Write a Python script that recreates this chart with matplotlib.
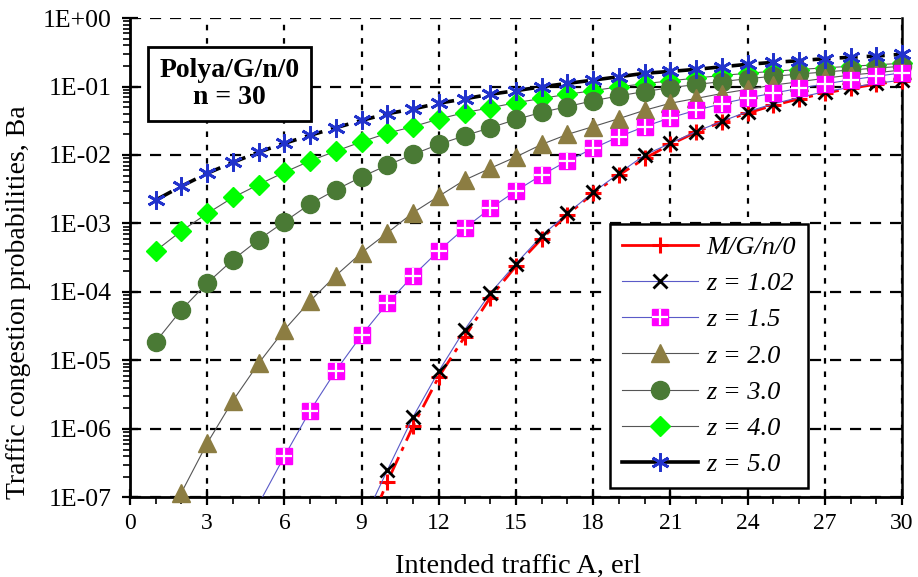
import numpy as np
import matplotlib
matplotlib.use("Agg")
import matplotlib.pyplot as plt
from matplotlib.ticker import FixedLocator, LogLocator, NullFormatter
from matplotlib.lines import Line2D
from matplotlib.legend_handler import HandlerTuple

nan = np.nan
A = list(range(1, 31))

mg_n0 = [nan]*8 + [2.1e-8, 1.7e-7, 1.1e-6, 5.8e-6, 2.2e-5, 8.3e-5, 2.4e-4, 6.0e-4,
                   1.35e-3, 2.75e-3, 5.1e-3, 8.9e-3, 1.43e-2, 2.15e-2, 3.05e-2, 4.1e-2,
                   5.3e-2, 6.6e-2, 8.0e-2, 9.4e-2, 0.108, 0.122]
z_102 = [nan]*8 + [4.0e-8, 2.5e-7, 1.5e-6, 7.0e-6, 2.8e-5, 9.6e-5, 2.6e-4, 6.6e-4,
                   1.41e-3, 2.85e-3, 5.4e-3, 1.0e-2, 1.48e-2, 2.2e-2, 3.1e-2, 4.3e-2,
                   5.6e-2, 6.9e-2, 8.4e-2, 9.7e-2, 0.111, 0.124]
z_15 = [nan]*4 + [8.0e-8, 4.0e-7, 1.85e-6, 7.1e-6, 2.35e-5, 6.8e-5, 1.73e-4, 4.0e-4,
                  8.5e-4, 1.66e-3, 3.0e-3, 5.1e-3, 8.2e-3, 1.25e-2, 1.85e-2, 2.6e-2,
                  3.5e-2, 4.5e-2, 5.6e-2, 6.8e-2, 8.0e-2, 9.4e-2, 0.109, 0.125, 0.141, 0.158]
z_20 = [1.6e-8, 1.18e-7, 6.2e-7, 2.6e-6, 9.1e-6, 2.8e-5, 7.4e-5, 1.74e-4, 3.75e-4, 7.3e-4,
        1.44e-3, 2.5e-3, 4.3e-3, 6.4e-3, 9.4e-3, 1.43e-2, 2.0e-2, 2.6e-2, 3.4e-2, 4.5e-2,
        5.7e-2, 6.7e-2, 7.9e-2, 9.1e-2, 0.105, 0.117, 0.132, 0.147, 0.159, 0.174]
z_30 = [1.88e-5, 5.5e-5, 1.35e-4, 2.95e-4, 5.8e-4, 1.06e-3, 1.93e-3, 3.1e-3, 4.8e-3, 7.1e-3,
        1.02e-2, 1.43e-2, 1.91e-2, 2.5e-2, 3.3e-2, 4.2e-2, 5.1e-2, 6.2e-2, 7.3e-2, 8.45e-2,
        9.6e-2, 0.107, 0.118, 0.13, 0.141, 0.152, 0.163, 0.174, 0.186, 0.197]
z_40 = [4.0e-4, 7.8e-4, 1.4e-3, 2.4e-3, 3.7e-3, 5.6e-3, 8.2e-3, 1.14e-2, 1.56e-2, 2.08e-2,
        2.6e-2, 3.35e-2, 4.15e-2, 4.9e-2, 5.8e-2, 6.7e-2, 7.7e-2, 8.7e-2, 9.9e-2, 0.11,
        0.121, 0.133, 0.145, 0.156, 0.167, 0.177, 0.1875, 0.197, 0.2075, 0.218]
z_50 = [2.2e-3, 3.5e-3, 5.4e-3, 7.8e-3, 1.1e-2, 1.48e-2, 1.94e-2, 2.5e-2, 3.2e-2, 4.0e-2,
        4.7e-2, 5.7e-2, 6.6e-2, 7.7e-2, 8.7e-2, 9.9e-2, 0.111, 0.124, 0.139, 0.156,
        0.166, 0.178, 0.194, 0.211, 0.225, 0.238, 0.255, 0.267, 0.279, 0.295]

labels = ["M/G/n/0", "z = 1.02", "z = 1.5", "z = 2.0", "z = 3.0", "z = 4.0", "z = 5.0"]
x_ticks = [0, 3, 6, 9, 12, 15, 18, 21, 24, 27, 30]
y_ticks = [1e-7, 1e-6, 1e-5, 1e-4, 1e-3, 1e-2, 1e-1, 1e0]
y_ticklabels = ["1E-07", "1E-06", "1E-05", "1E-04", "1E-03", "1E-02", "1E-01", "1E+00"]

plt.rcParams['font.family'] = ['Liberation Serif', 'DejaVu Serif']

fig = plt.figure(figsize=(9.18, 5.77), dpi=100)
ax = fig.add_axes([0.1416, 0.1378, 0.8410, 0.8310])
YMIN = 1e-7

thin_blue = '#5a5ac8'
thin_gray = '#555555'

series = [
    (mg_n0, dict(color='red', lw=2.0, linestyle=(0, (7, 2.5, 1.5, 2.5))),
     dict(marker='+', ms=11, mew=2.2, mec='red'), 3),
    (z_102, dict(color=thin_blue, lw=0.8), dict(marker='x', ms=10, mew=2.0, mec='black'), 4),
    (z_15, dict(color=thin_blue, lw=0.8), dict(marker='s', ms=11, mfc='#ff00ff', mec='#ff00ff'), 5),
    (z_20, dict(color=thin_gray, lw=0.8), dict(marker='^', ms=13, mfc='#8c7d42', mec='#8c7d42'), 4.5),
    (z_30, dict(color=thin_gray, lw=0.8), dict(marker='o', ms=13, mfc='#4a7a35', mec='#4a7a35'), 3.8),
    (z_40, dict(color=thin_gray, lw=0.8), dict(marker='D', ms=10, mfc='#00ff00', mec='#00ff00'), 3.5),
    (z_50, dict(color='black', lw=2.6, linestyle=(0, (5, 2.5))),
     dict(marker=(6, 2, 0), ms=13, mew=2.0, mec='#2233cc'), 6),
]

handles = []
for vals, lstyle, mstyle, zo in series:
    v = np.array(vals, dtype=float)
    ax.plot(A, v, zorder=zo, **lstyle)
    vis = [i for i in range(len(v)) if np.isfinite(v[i]) and v[i] >= YMIN]
    ax.plot(A, v, linestyle='none', markevery=vis, clip_on=False, zorder=zo + 0.05, **mstyle)
    lst = dict(lstyle)
    lst['linestyle'] = '-'
    handles.append(Line2D([], [], **lst, **mstyle))

# white cross inside the magenta squares
v15 = np.array(z_15, dtype=float)
vis15 = [i for i in range(len(v15)) if np.isfinite(v15[i]) and v15[i] >= YMIN]
ax.plot(A, v15, linestyle='none', marker='+', ms=11, mew=1.6, mec='white',
        markevery=vis15, clip_on=False, zorder=5.1)
cross = Line2D([], [], linestyle='none', marker='+', ms=11, mew=1.6, mec='white')
handles[2] = (handles[2], cross)

ax.set_yscale('log')
ax.set_xlim(0, 30)
ax.set_ylim(YMIN, 1)

ax.xaxis.set_major_locator(FixedLocator(x_ticks))
ax.xaxis.set_minor_locator(FixedLocator([a for a in range(0, 31) if a % 3 != 0]))
ax.set_yticks(y_ticks)
ax.set_yticklabels(y_ticklabels)
ax.yaxis.set_minor_locator(LogLocator(base=10, subs=np.arange(2, 10)))
ax.yaxis.set_minor_formatter(NullFormatter())

ax.tick_params(axis='both', which='major', direction='inout', length=11, width=1.6,
               colors='black')
ax.tick_params(axis='x', which='major', pad=6, labelsize=17)
ax.tick_params(axis='y', which='major', pad=7.5, labelsize=18.5)
ax.tick_params(axis='both', which='minor', direction='out', length=5, width=1.2)

ax.xaxis.grid(True, which='major', color='black', linestyle=(0, (2.5, 3.5)), lw=1.6)
ax.yaxis.grid(True, which='major', color='black', linestyle=(0, (5, 4)), lw=1.6)
ax.set_axisbelow(True)

for s in ['left', 'bottom']:
    ax.spines[s].set_linewidth(2.0)
ax.spines['right'].set_linewidth(1.8)
ax.spines['top'].set_visible(False)

ax.set_xlabel("Intended traffic A, erl", fontsize=20.5)
ax.xaxis.set_label_coords(0.502, -0.117)
ax.set_ylabel("Traffic congestion probabilities, Ba", fontsize=20)
ax.yaxis.set_label_coords(-0.128, 0.408)

ax.text(0.129, 0.863, "Polya/G/n/0\nn = 30", transform=ax.transAxes, ha='center',
        va='center', fontsize=20, fontweight='bold', linespacing=1.1, zorder=10,
        bbox=dict(boxstyle='square,pad=0.4', fc='white', ec='black', lw=2.0))

leg = ax.legend(handles, labels, loc='lower right', bbox_to_anchor=(0.878, 0.02),
                prop={'family': 'Liberation Serif', 'style': 'italic', 'size': 19},
                handlelength=2.9, handletextpad=0.3, labelspacing=0.48,
                borderpad=0.45, borderaxespad=0.0, fancybox=False, framealpha=1,
                edgecolor='black',
                handler_map={tuple: HandlerTuple(ndivide=1, pad=0)})
leg.get_frame().set_linewidth(1.8)
leg.set_zorder(20)

fig.savefig("out.png", dpi=100)
